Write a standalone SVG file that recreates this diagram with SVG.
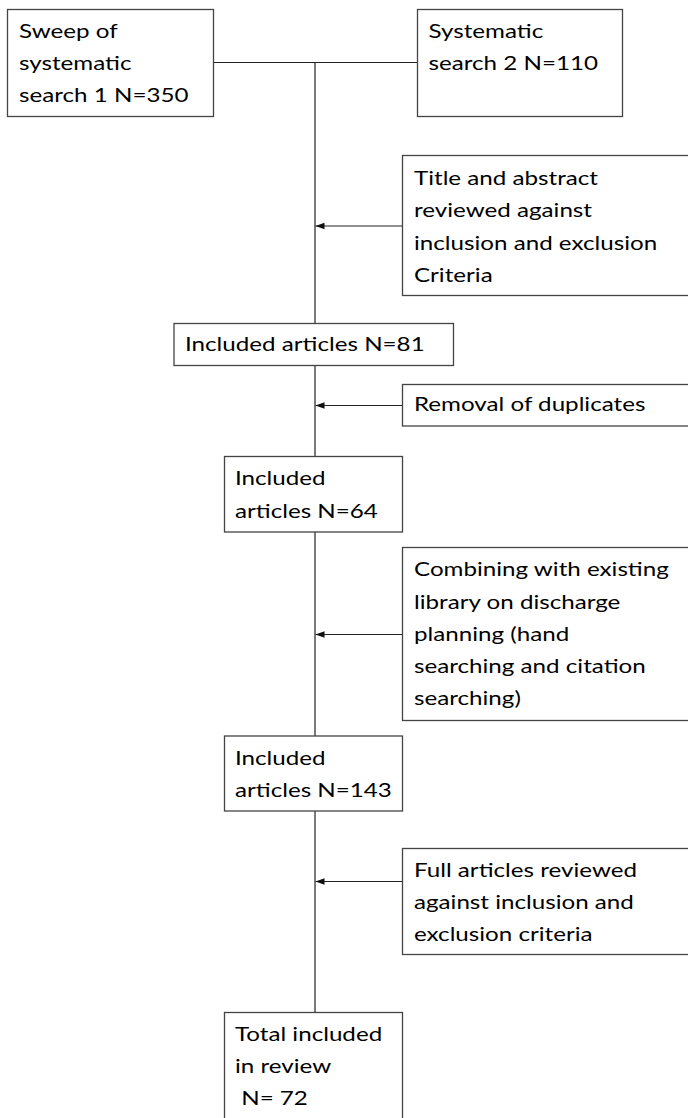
<svg xmlns="http://www.w3.org/2000/svg" width="688" height="1118" viewBox="0 0 688 1118">
<style>
.box{fill:#fff;stroke:#444;stroke-width:1.3}
.t{font-family:Lato,"Open Sans","Liberation Sans",sans-serif;font-size:19.5px;fill:#000}
.ln{stroke:#222;stroke-width:1.2;fill:none}
</style>
<defs>
<marker id="ah" markerWidth="10" markerHeight="8" refX="9" refY="4" orient="auto" markerUnits="userSpaceOnUse">
<path d="M0,0.8 L9,4 L0,7.2 Z" fill="#111"/>
</marker>
</defs>
<g id="connectors">
<path class="ln" d="M213,62.5 H417"/>
<path class="ln" d="M315,62.5 V323.5"/>
<path class="ln" d="M315,365.5 V456.5"/>
<path class="ln" d="M315,532 V736"/>
<path class="ln" d="M315,811 V1012.5"/>
<path class="ln" d="M402,226 H315.5" marker-end="url(#ah)"/>
<path class="ln" d="M402,405.5 H315.5" marker-end="url(#ah)"/>
<path class="ln" d="M402,634.5 H315.5" marker-end="url(#ah)"/>
<path class="ln" d="M402,881.5 H315.5" marker-end="url(#ah)"/>
</g>
<g id="n1">
<rect class="box" x="7.5" y="9.5" width="206" height="107"/>
<text class="t" transform="translate(19,0) scale(1.24,1)"><tspan x="0" y="38">Sweep of</tspan><tspan x="0" y="70.5">systematic</tspan><tspan x="0" y="102.5">search 1 N=350</tspan></text>
</g>
<g id="n2">
<rect class="box" x="417.5" y="9.5" width="205" height="107"/>
<text class="t" transform="translate(428.5,0) scale(1.24,1)"><tspan x="0" y="38">Systematic</tspan><tspan x="0" y="70.5">search 2 N=110</tspan></text>
</g>
<g id="n3">
<rect class="box" x="402.5" y="155.5" width="300" height="140"/>
<text class="t" transform="translate(414,0) scale(1.24,1)"><tspan x="0" y="185">Title and abstract</tspan><tspan x="0" y="217.3">reviewed against</tspan><tspan x="0" y="249.6">inclusion and exclusion</tspan><tspan x="0" y="281.9">Criteria</tspan></text>
</g>
<g id="n4">
<rect class="box" x="174" y="323.5" width="279.5" height="42"/>
<text class="t" transform="translate(185,0) scale(1.24,1)"><tspan x="0" y="351.5">Included articles N=81</tspan></text>
</g>
<g id="n5">
<rect class="box" x="402.5" y="384.5" width="300" height="41.5"/>
<text class="t" transform="translate(414,0) scale(1.24,1)"><tspan x="0" y="411.5">Removal of duplicates</tspan></text>
</g>
<g id="n6">
<rect class="box" x="224.5" y="456.5" width="178" height="75.5"/>
<text class="t" transform="translate(235,0) scale(1.24,1)"><tspan x="0" y="485.5">Included</tspan><tspan x="0" y="517.7">articles N=64</tspan></text>
</g>
<g id="n7">
<rect class="box" x="402.5" y="547.5" width="300" height="173"/>
<text class="t" transform="translate(414,0) scale(1.24,1)"><tspan x="0" y="576.5">Combining with existing</tspan><tspan x="0" y="608.7">library on discharge</tspan><tspan x="0" y="640.9">planning (hand</tspan><tspan x="0" y="673.1">searching and citation</tspan><tspan x="0" y="705.3">searching)</tspan></text>
</g>
<g id="n8">
<rect class="box" x="224.5" y="736" width="178" height="75"/>
<text class="t" transform="translate(235,0) scale(1.24,1)"><tspan x="0" y="765">Included</tspan><tspan x="0" y="796.7">articles N=143</tspan></text>
</g>
<g id="n9">
<rect class="box" x="402.5" y="848.5" width="300" height="106"/>
<text class="t" transform="translate(414,0) scale(1.24,1)"><tspan x="0" y="876.7">Full articles reviewed</tspan><tspan x="0" y="908.9">against inclusion and</tspan><tspan x="0" y="941.1">exclusion criteria</tspan></text>
</g>
<g id="n10">
<rect class="box" x="224.5" y="1012.5" width="178" height="120"/>
<text class="t" transform="translate(235,0) scale(1.24,1)"><tspan x="0" y="1040.7">Total included</tspan><tspan x="0" y="1072.9">in review</tspan><tspan x="0" y="1105.1" xml:space="preserve"> N= 72</tspan></text>
</g>
</svg>
